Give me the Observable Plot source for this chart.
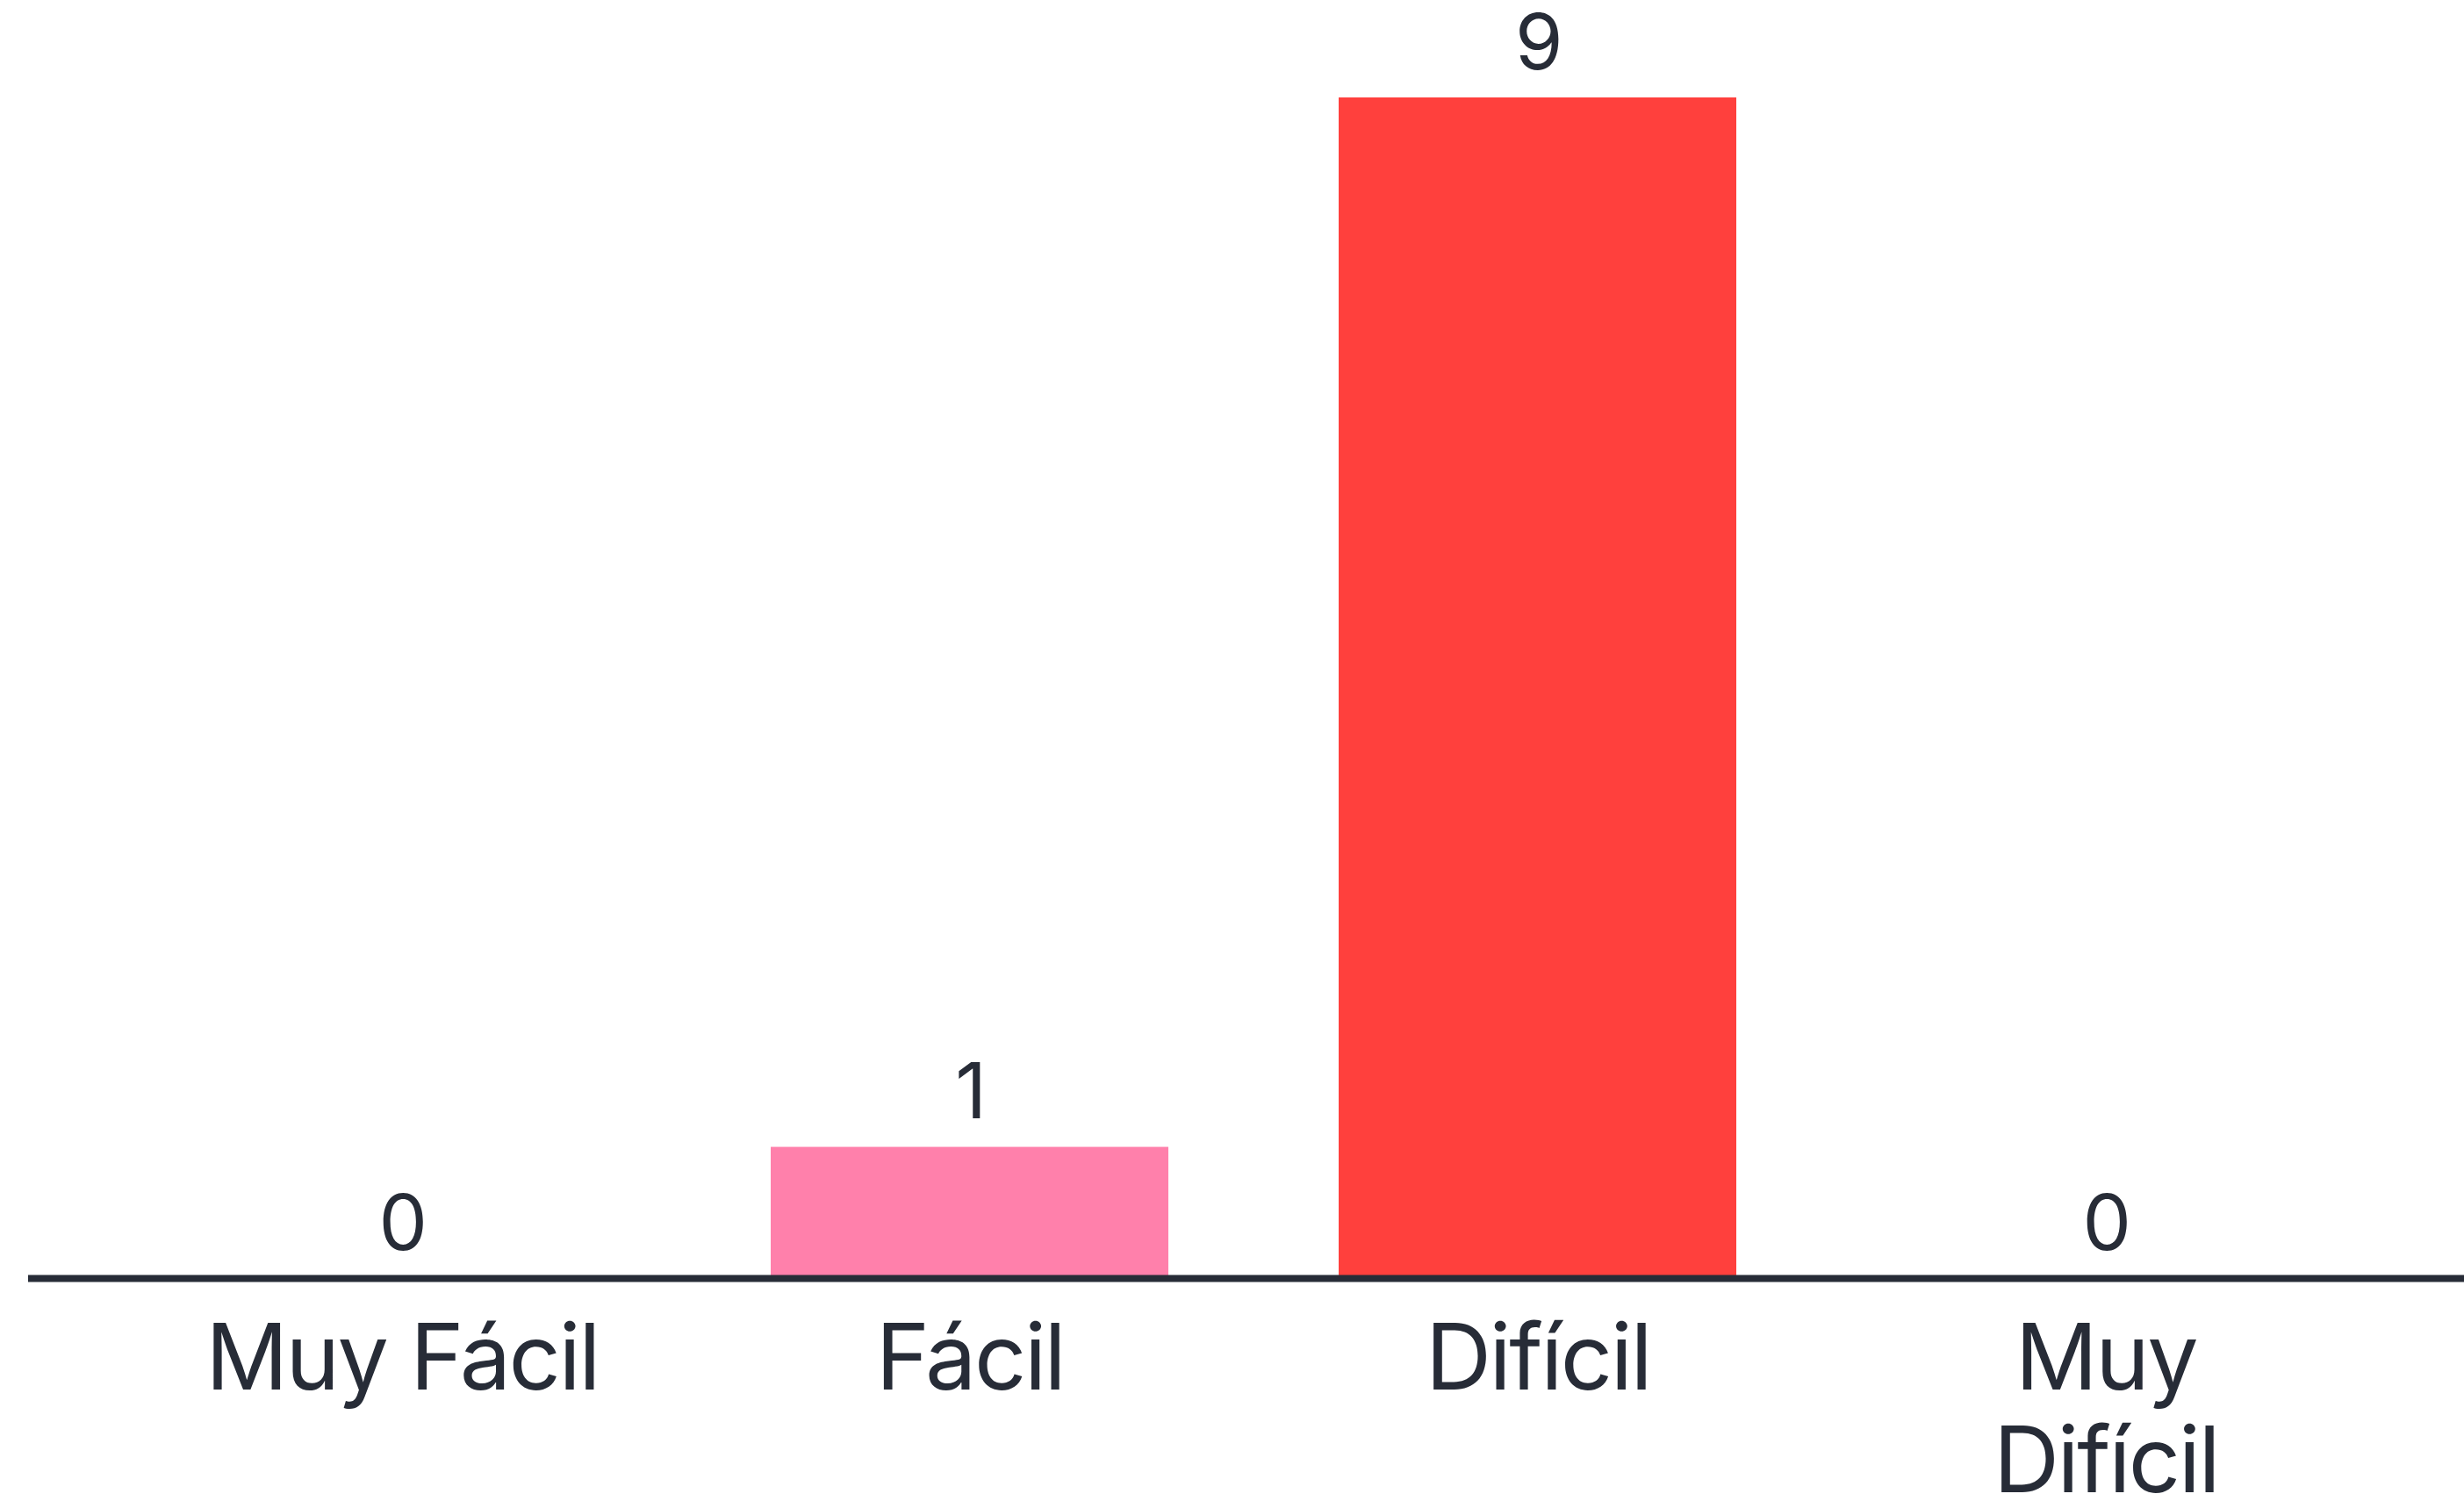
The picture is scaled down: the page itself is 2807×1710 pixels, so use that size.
<!DOCTYPE html>
<html>
<head>
<meta charset="utf-8">
<script src="https://cdn.jsdelivr.net/npm/d3@7"></script>
<script src="https://cdn.jsdelivr.net/npm/@observablehq/plot@0.6"></script>
<style>
  html, body { margin: 0; padding: 0; background: #ffffff; overflow: hidden; }
  #chart svg { display: block; font-family: Inter, "Noto Sans", sans-serif; }
  #chart svg text { letter-spacing: -2.5px; }
</style>
</head>
<body>
<div id="chart"></div>
<script>
const categories = ["Muy Fácil", "Fácil", "Difícil", "Muy Difícil"];
const tickLabels = ["Muy Fácil", "Fácil", "Difícil", "Muy\nDifícil"];
const values = [0, 1, 9, 0];
const barColors = ["#ff80ab", "#ff80ab", "#ff403d", "#ff403d"];

const data = categories.map((c, i) => ({category: c, value: values[i], color: barColors[i]}));
const labelOf = new Map(categories.map((c, i) => [c, tickLabels[i]]));

const ink = "#272c37";

const chart = Plot.plot({
  width: 2807,
  height: 1710,
  marginLeft: 32,
  marginRight: 0,
  marginTop: 111,
  marginBottom: 254,
  style: {background: "#ffffff", color: ink, fontFamily: "Inter, 'Noto Sans', sans-serif"},
  x: {domain: categories, range: [35, 2821], padding: 0.3, label: null},
  y: {domain: [0, 9], range: [1456, 111], axis: null},
  marks: [
    Plot.barY(data, {x: "category", y: "value", fill: "color"}),
    Plot.ruleY([0], {stroke: ink, strokeWidth: 8}),
    Plot.text(data, {
      x: "category", y: "value", text: d => String(d.value),
      lineAnchor: "bottom", dy: -33, fontSize: 88, fill: ink
    }),
    Plot.axisX({
      tickSize: 0, tickPadding: 44, fontSize: 104, lineHeight: 1.12,
      tickFormat: c => labelOf.get(c), label: null, fill: ink
    })
  ]
});
document.getElementById("chart").append(chart);
</script>
</body>
</html>
